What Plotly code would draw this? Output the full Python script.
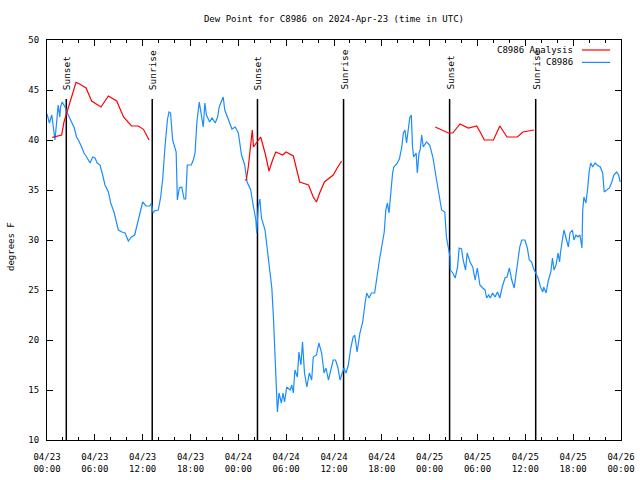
import plotly.graph_objects as go

# ---- data (hours since 2024-04-23 00:00 UTC) ----
obs_hours = [0, 0.3, 0.6, 0.8, 1.0, 1.2, 1.4, 1.6, 1.7, 1.9, 2.26, 2.55, 3.1, 3.43, 3.7, 3.93, 4.35, 4.64, 4.98, 5.4,
             5.73, 6.02, 6.3, 6.65, 6.98, 7.27, 7.7, 7.99, 8.4, 8.74, 8.95, 9.4, 9.8, 10.2, 10.6, 11.0, 11.37, 11.7,
             12.0, 12.42, 12.9, 13.1, 13.3, 13.5, 13.96, 14.26, 14.5, 14.8, 15.1, 15.3, 15.5, 15.76, 16.2, 16.35,
             16.6, 16.9, 17.2, 17.4, 17.6, 18.1, 18.35, 18.57, 18.8, 19.1, 19.4, 19.6, 19.8, 20.0, 20.4, 20.7, 21.1,
             21.4, 21.6, 22.1, 22.3, 22.75, 23.2, 23.6, 24.0, 24.4, 24.8, 25.1, 25.55, 25.9, 26.2, 26.3, 26.5, 26.7,
             26.9, 27.35, 27.6, 27.97, 28.2, 28.4, 28.6, 28.8, 28.9, 29.1, 29.4, 29.6, 29.8, 30.07, 30.5, 30.7, 30.9,
             31.1, 31.4, 31.6, 31.85, 32.05, 32.3, 32.6, 32.9, 33.2, 33.4, 33.8, 34.1, 34.45, 34.75, 35.0, 35.3, 35.6,
             35.9, 36.2, 36.5, 36.75, 36.95, 37.25, 37.5, 37.8, 38.1, 38.4, 38.6, 38.9, 39.25, 39.6, 39.9, 40.1, 40.4,
             40.7, 41.1, 41.35, 41.7, 41.98, 42.3, 42.5, 42.7, 42.9, 43.1, 43.35, 43.5, 43.87, 44.2, 44.5, 44.7, 44.9,
             45.1, 45.3, 45.5, 45.7, 45.85, 46.0, 46.3, 46.45, 46.67, 46.8, 47.0, 47.2, 47.6, 48.0, 48.4, 48.7, 49.1,
             49.4, 49.5, 49.9, 50.1, 50.35, 50.55, 50.6, 50.9, 51.2, 51.5, 51.7, 52.0, 52.2, 52.5, 52.7, 53.06, 53.4,
             53.7, 53.98, 54.3, 54.65, 54.95, 55.15, 55.4, 55.6, 55.9, 56.2, 56.5, 56.8, 57.1, 57.45, 57.7, 58.0, 58.3,
             58.6, 58.8, 59.1, 59.3, 59.55, 59.95, 60.25, 60.5, 60.8, 61.0, 61.3, 61.6, 61.9, 62.2, 62.3, 62.6, 62.9,
             63.2, 63.4, 63.6, 63.85, 64.1, 64.3, 64.4, 64.7, 64.85, 65.1, 65.4, 65.6, 65.9, 66.1, 66.35, 66.6, 66.85,
             67.1, 67.2, 67.35, 67.6, 67.8, 68.0, 68.2, 68.45, 68.75, 69.0, 69.4, 69.7, 69.9, 70.2, 70.55, 70.85, 71.1,
             71.45, 71.7, 71.9]
obs_dewpoint = [42.6, 41.7, 42.5, 41.0, 40.0, 41.7, 43.5, 42.3, 43.3, 43.8, 43.3, 42.7, 41.8, 41.2, 40.3, 40.0, 39.3,
                38.7, 38.3, 37.7, 38.3, 38.2, 37.7, 37.5, 36.5, 35.5, 34.8, 33.7, 32.8, 31.8, 31.0, 30.8, 30.7, 29.9,
                30.3, 30.5, 31.7, 32.7, 33.8, 33.4, 33.4, 33.7, 32.7, 32.9, 33.0, 34.3, 36.0, 39.3, 42.0, 42.8, 42.7,
                40.0, 38.8, 34.0, 35.2, 35.3, 34.1, 34.1, 37.5, 37.5, 38.0, 38.7, 41.8, 43.8, 42.0, 41.3, 43.7, 42.5,
                41.8, 42.2, 41.7, 42.3, 43.3, 44.3, 43.0, 42.0, 41.1, 41.3, 40.7, 38.5, 37.5, 35.8, 35.0, 33.3, 32.0,
                30.7, 33.3, 34.1, 32.2, 31.0, 29.3, 27.3, 25.2, 22.3, 19.0, 15.8, 12.8, 14.7, 13.7, 14.7, 13.8, 15.3,
                15.0, 15.5, 14.7, 17.0, 16.3, 18.8, 17.5, 19.8, 16.7, 15.3, 16.7, 16.0, 18.3, 18.5, 19.7, 18.7, 16.7,
                17.2, 16.0, 17.0, 18.0, 18.0, 17.2, 16.0, 16.5, 17.2, 16.7, 17.5, 19.2, 20.3, 20.5, 18.8, 20.7, 21.8,
                23.7, 24.7, 24.2, 24.7, 24.7, 26.2, 28.0, 29.3, 30.8, 33.0, 33.7, 32.7, 34.8, 36.7, 37.3, 37.6, 38.1,
                39.3, 40.7, 41.0, 39.7, 41.2, 42.2, 42.5, 39.3, 38.3, 38.7, 36.7, 38.7, 39.0, 40.5, 39.3, 39.8, 39.5,
                38.3, 36.8, 35.0, 33.3, 33.0, 32.8, 30.3, 29.2, 28.3, 27.0, 26.7, 26.2, 27.3, 29.2, 29.1, 28.0, 27.0,
                28.7, 27.8, 27.3, 26.0, 27.2, 25.5, 25.2, 25.0, 24.2, 24.5, 24.2, 24.7, 24.3, 24.8, 24.2, 25.3, 26.2,
                26.3, 27.2, 26.0, 25.2, 26.3, 28.3, 29.3, 30.0, 30.0, 29.2, 28.0, 27.8, 27.2, 26.7, 26.2, 25.3, 24.8,
                25.3, 24.7, 26.0, 26.8, 28.2, 27.0, 27.5, 28.7, 27.8, 28.7, 30.3, 31.0, 30.2, 29.3, 30.7, 31.0, 30.0,
                30.5, 30.3, 30.5, 29.2, 33.0, 34.3, 33.7, 35.0, 36.8, 37.7, 37.3, 37.7, 37.5, 37.3, 36.7, 34.8, 35.0,
                35.2, 35.8, 36.5, 36.8, 36.5, 35.8]

ana_hours = [0.67, 1.84, 2.13, 2.68, 3.1, 3.64, 4.14, 4.9, 5.6, 6.0, 6.77, 7.7, 8.74, 9.6, 10.6, 11.45, 12.1, 12.8,
             None,
             24.8, 25.0, 25.25, 25.55, 25.75, 25.9, 26.3, 26.8, 27.35, 27.85, 28.3, 28.7, 29.56, 29.98, 30.9, 31.7,
             32.8, 33.4, 33.8, 34.2, 34.8, 35.4, 35.9, 36.4, 36.96,
             None,
             48.7, 49.3, 49.8, 50.35, 50.9, 51.8, 52.85, 53.9, 54.4, 54.85, 56.0, 56.8, 57.7, 59.0, 59.7, 60.6, 61.1]
ana_dewpoint = [40.27, 40.5, 41.8, 43.2, 44.3, 45.77, 45.57, 45.2, 43.9, 43.7, 43.3, 44.4, 43.9, 42.3, 41.4, 41.4,
                41.07, 40.0,
                None,
                36.0, 36.0, 37.3, 39.3, 41.0, 39.3, 39.8, 40.3, 38.7, 36.9, 38.0, 38.8, 38.5, 38.8, 38.4, 35.8,
                35.5, 34.3, 33.8, 34.7, 35.8, 36.2, 36.5, 37.2, 37.9,
                None,
                41.3, 41.07, 40.9, 40.7, 40.7, 41.6, 41.2, 41.4, 40.7, 40.0, 40.0, 41.4, 40.3, 40.3, 40.8, 40.9, 41.0]

sun_hours = [2.42, 13.2, 26.4, 37.2, 50.5, 61.3]
sun_labels = ["Sunset", "Sunrise", "Sunset", "Sunrise", "Sunset", "Sunrise"]
sun_line_bottom = 10
sun_line_top = 44.1

tick_hours = [0, 6, 12, 18, 24, 30, 36, 42, 48, 54, 60, 66, 72]
tick_labels = ["04/23<br>00:00", "04/23<br>06:00", "04/23<br>12:00", "04/23<br>18:00",
               "04/24<br>00:00", "04/24<br>06:00", "04/24<br>12:00", "04/24<br>18:00",
               "04/25<br>00:00", "04/25<br>06:00", "04/25<br>12:00", "04/25<br>18:00",
               "04/26<br>00:00"]

title_text = "Dew Point for C8986 on 2024-Apr-23 (time in UTC)"
series_names = ["C8986 Analysis", "C8986"]

RED = "#ff0000"
BLUE = "#1a8cff"
FONT = "DejaVu Sans Mono"
FS = 9

fig = go.Figure()

# sunrise / sunset lines
sx, sy = [], []
for t in sun_hours:
    sx += [t, t, None]
    sy += [sun_line_bottom, sun_line_top, None]
fig.add_trace(go.Scatter(x=sx, y=sy, mode="lines", line=dict(color="black", width=1.5),
                         showlegend=False, hoverinfo="skip"))

fig.add_trace(go.Scatter(x=obs_hours, y=obs_dewpoint, mode="lines", name=series_names[1],
                         line=dict(color=BLUE, width=1.2), showlegend=False))
fig.add_trace(go.Scatter(x=ana_hours, y=ana_dewpoint, mode="lines", name=series_names[0],
                         line=dict(color=RED, width=1.2), showlegend=False, connectgaps=False))

for t, lab in zip(sun_hours, sun_labels):
    fig.add_annotation(x=t, y=sun_line_top + 0.7, xref="x", yref="y", text=lab, textangle=-90,
                       showarrow=False, xanchor="center", yanchor="bottom",
                       font=dict(family=FONT, size=FS + 0.5, color="black"))

# manual legend (text left of sample line, as in the original)
legend_rows = [(0.975, series_names[0], RED), (0.944, series_names[1], BLUE)]
for yy, name, col in legend_rows:
    fig.add_annotation(x=0.919, y=yy, xref="paper", yref="paper", text=name, showarrow=False,
                       xanchor="right", yanchor="middle", font=dict(family=FONT, size=FS, color="black"))
    fig.add_shape(type="line", xref="paper", yref="paper", x0=0.932, x1=0.981, y0=yy, y1=yy,
                  line=dict(color=col, width=1.2))

fig.add_annotation(x=-0.0627, y=0.4825, xref="paper", yref="paper", text="degrees F", textangle=-90,
                   showarrow=False, xanchor="center", yanchor="middle",
                   font=dict(family=FONT, size=FS, color="black"))

fig.update_layout(
    width=640, height=480,
    margin=dict(l=47, r=19, t=40, b=40, autoexpand=False),
    paper_bgcolor="white", plot_bgcolor="white",
    font=dict(family=FONT, size=FS, color="black"),
    title=dict(text=title_text, x=0.5, xref="paper", xanchor="center", y=0.96, yref="container",
               yanchor="middle", font=dict(family=FONT, size=FS, color="black")),
    showlegend=False,
)
fig.update_xaxes(range=[0, 72], tickmode="array", tickvals=tick_hours, ticktext=tick_labels,
                 ticks="inside", ticklen=6, tickwidth=1, tickcolor="black",
                 minor=dict(dtick=2, tick0=0, ticks="inside", ticklen=3, tickcolor="black", showgrid=False),
                 showline=True, linecolor="black", linewidth=1, mirror="ticks", showgrid=False, zeroline=False,
                 ticklabelstandoff=8)
fig.update_yaxes(range=[10, 50], dtick=5, tick0=10, ticks="inside", ticklen=6, tickwidth=1, tickcolor="black",
                 showline=True, linecolor="black", linewidth=1, mirror="ticks", showgrid=False, zeroline=False,
                 ticklabelstandoff=5)

fig.write_html("out.html", config={"displayModeBar": False},
               post_script="document.body.style.margin='0';")
